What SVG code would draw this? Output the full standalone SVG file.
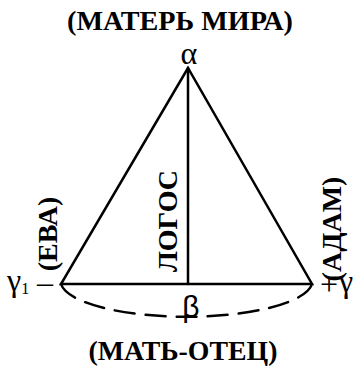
<svg xmlns="http://www.w3.org/2000/svg" width="362" height="367" viewBox="0 0 362 367">
<style>
.t{font-family:"Liberation Serif","Times New Roman",serif;font-weight:bold;font-size:28px;fill:#000}
.g{font-family:"Liberation Sans",Arial,sans-serif;font-size:30px;fill:#000}
.s{font-family:"Liberation Serif","Times New Roman",serif;font-size:32px;fill:#000}
.ln{stroke:#000;stroke-width:2.5;fill:none;stroke-linecap:round}
</style>
<rect width="362" height="367" fill="#fff"/>
<g id="connectors">
<path class="ln" d="M188,68 L61,284 L312,284 Z" stroke-linejoin="miter"/>
<path class="ln" d="M188,68 L188,284"/>
<path class="ln" d="M61,284 A126,36 0 0 0 312,284" stroke-dasharray="20 11" stroke-linecap="butt"/>
</g>
<g id="title"><text class="t" x="180" y="30" text-anchor="middle" textLength="226" lengthAdjust="spacingAndGlyphs">(МАТЕРЬ МИРА)</text></g>
<g id="alpha"><text class="s" x="189" y="64" text-anchor="middle" font-size="28">α</text></g>
<g id="logos"><text class="t" transform="translate(167,221) rotate(-90)" y="10" text-anchor="middle" font-size="29">ЛОГОС</text></g>
<g id="eva"><text class="t" transform="translate(47,234) rotate(-90)" y="10" text-anchor="middle">(ЕВА)</text></g>
<g id="adam"><text class="t" transform="translate(331,229) rotate(-90)" y="10" text-anchor="middle">(АДАМ)</text></g>
<g id="gamma1"><text class="s" x="7" y="291">γ<tspan font-size="16" dy="3">1</tspan></text>
<text class="s" x="45" y="293" text-anchor="middle">–</text></g>
<g id="gamma"><text class="s" x="329" y="295" text-anchor="middle" font-size="28">+</text><text class="s" x="339" y="292">γ</text></g>
<g id="beta"><text class="g" x="191" y="317" text-anchor="middle">β</text></g>
<g id="bottom"><text class="t" x="183" y="360" text-anchor="middle" textLength="189" lengthAdjust="spacingAndGlyphs">(МАТЬ-ОТЕЦ)</text></g>
</svg>
